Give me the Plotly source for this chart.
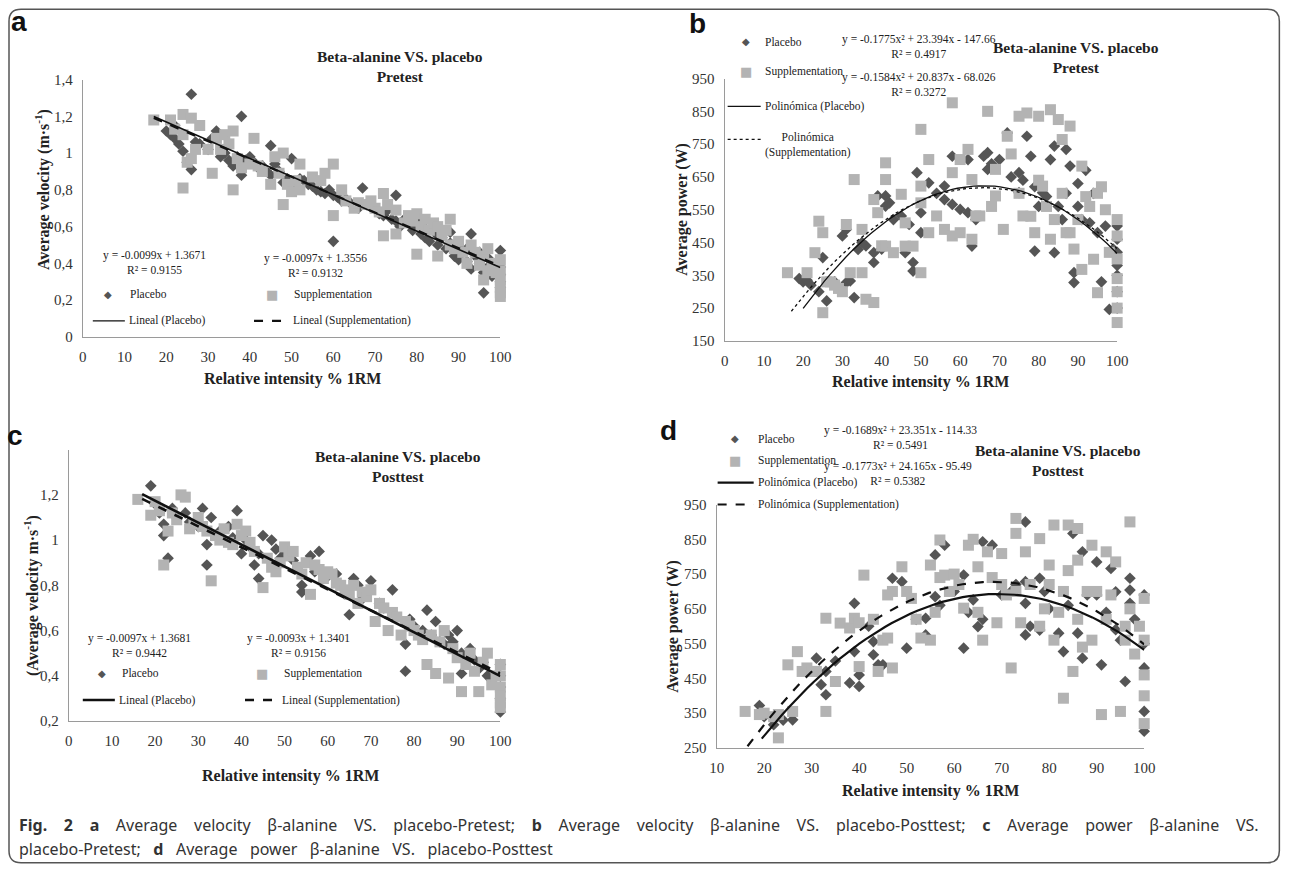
import plotly.graph_objects as go

W, H = 1292, 873
# the returned photo shows the page at ~0.984 scale with ~8.3px offset; positions below are
# given in photo pixels and converted to page pixels
PHOTO_S, PHOTO_O = 0.984, 8.3

# ---------------- data ----------------
# Panel a: average velocity, pretest
a_plac_x = [20,21,22,22,23,24,25,26,26,27,28,30,31,32,33,34,35,36,37,38,38,39,40,41,42,43,44,45,45,46,47,48,49,50,51,52,53,54,55,56,57,58,59,60,60,61,62,63,64,65,66,67,68,69,70,71,72,73,74,75,75,76,77,78,79,80,80,81,82,82,83,84,85,85,86,87,88,88,89,90,90,91,92,92,93,93,94,95,95,96,96,97,97,98,99,100,100,100,100,100]
a_plac_y = [1.12,1.10,1.15,1.08,1.05,1.01,0.95,0.91,1.32,1.06,1.05,1.02,1.08,1.12,0.98,1.00,0.96,0.93,0.98,1.20,0.88,0.96,0.98,0.95,0.92,0.93,0.90,0.88,1.04,0.94,0.90,0.84,0.86,0.97,0.80,0.86,0.85,0.83,0.82,0.80,0.79,0.78,0.80,0.77,0.52,0.76,0.74,0.75,0.73,0.72,0.70,0.81,0.72,0.71,0.70,0.67,0.66,0.69,0.64,0.77,0.63,0.60,0.64,0.62,0.58,0.60,0.64,0.56,0.54,0.59,0.52,0.58,0.50,0.55,0.54,0.48,0.57,0.51,0.44,0.42,0.49,0.46,0.41,0.48,0.37,0.56,0.44,0.40,0.46,0.35,0.24,0.38,0.43,0.33,0.36,0.47,0.38,0.34,0.30,0.27]
a_supp_x = [17,21,22,24,24,24,25,26,26,27,28,30,31,32,33,34,35,36,36,37,38,40,41,42,43,45,46,47,48,48,49,50,51,52,52,55,57,58,60,60,62,63,65,66,68,69,70,71,72,72,73,75,75,77,78,79,80,80,81,82,83,84,85,85,86,87,88,88,89,90,91,92,93,94,95,96,96,97,97,98,99,100,100,100,100,100,100]
a_supp_y = [1.18,1.18,1.13,1.21,1.10,0.81,0.95,1.19,0.97,1.02,1.15,1.02,0.89,1.08,1.02,1.10,1.05,1.12,0.80,0.97,0.92,0.94,1.08,0.93,0.90,0.83,0.98,0.89,1.00,0.72,0.83,0.79,0.85,0.94,0.80,0.87,0.85,0.89,0.94,0.66,0.80,0.74,0.70,0.73,0.72,0.74,0.70,0.68,0.78,0.55,0.72,0.69,0.56,0.62,0.66,0.63,0.67,0.45,0.60,0.64,0.58,0.62,0.60,0.44,0.55,0.58,0.64,0.50,0.48,0.52,0.46,0.40,0.50,0.46,0.39,0.44,0.31,0.48,0.36,0.40,0.35,0.42,0.36,0.31,0.27,0.24,0.22]

# Panel b: average power, pretest
b_plac_x = [19,20,21,22,24,25,26,28,30,31,31,32,33,34,35,36,38,38,39,40,41,41,42,43,45,46,47,48,48,49,50,50,52,54,56,56,58,58,60,62,62,63,64,66,67,67,68,70,72,73,75,75,76,77,78,79,79,80,81,82,83,84,84,85,86,87,87,88,89,89,90,90,91,92,93,94,95,96,97,98,99,100,100,100,100,100,100,100]
b_plac_y = [340,330,335,320,300,404,272,330,470,490,328,333,282,429,450,440,419,389,592,430,561,592,571,520,531,419,505,389,363,663,541,480,632,600,622,581,566,713,551,541,703,439,520,713,724,673,690,703,784,650,663,602,640,774,713,424,620,560,602,590,703,744,419,560,520,734,600,683,358,328,630,560,520,670,510,600,480,330,500,246,430,500,460,420,380,350,300,250]
b_supp_x = [16,21,23,24,25,25,26,27,28,29,30,31,32,33,35,35,36,38,38,39,40,41,41,41,43,45,46,46,48,50,50,50,50,52,52,54,56,58,58,58,60,60,62,63,63,64,65,67,68,69,69,71,72,73,75,75,76,77,78,79,80,80,81,82,83,83,84,85,86,86,87,88,88,89,90,91,91,92,93,94,95,95,96,97,98,100,100,100,100,100,100,100]
b_supp_y = [358,358,419,515,236,480,330,330,320,310,300,505,358,642,490,358,277,267,581,541,440,693,642,439,419,597,510,439,439,795,622,571,358,703,480,531,490,663,876,470,480,703,734,460,642,531,531,850,560,592,673,490,774,720,835,600,531,845,530,480,835,640,622,560,855,460,520,825,764,600,480,805,480,430,520,683,368,590,560,399,297,600,620,550,420,520,470,400,340,300,250,206]

# Panel c: average velocity, posttest
c_plac_x = [19,20,21,22,22,23,24,25,27,28,30,31,32,32,33,35,37,38,39,40,41,42,43,44,44,45,47,48,49,50,52,54,54,56,57,58,60,62,63,65,66,67,68,70,72,73,75,76,78,78,79,80,82,83,84,85,86,87,88,89,90,91,91,92,93,94,95,96,97,98,100,100,100,100,100]
c_plac_y = [1.24,1.16,1.12,1.07,1.02,0.92,1.14,1.10,1.12,1.08,1.06,1.14,0.98,0.89,1.10,1.04,1.06,1.01,1.13,0.94,1.00,0.97,0.89,0.83,0.94,1.02,1.00,0.96,0.92,0.95,0.91,0.80,0.77,0.93,0.86,0.95,0.84,0.85,0.80,0.67,0.83,0.80,0.74,0.82,0.72,0.70,0.78,0.66,0.54,0.42,0.65,0.62,0.60,0.69,0.58,0.64,0.55,0.54,0.58,0.55,0.60,0.41,0.50,0.48,0.52,0.47,0.43,0.46,0.40,0.38,0.24,0.30,0.35,0.40,0.45]
c_supp_x = [16,19,20,21,22,23,24,25,26,27,28,29,30,31,32,33,34,35,36,37,38,39,40,41,42,43,45,46,47,48,49,50,51,52,53,54,55,56,57,58,59,60,61,62,63,64,65,66,67,68,69,70,71,72,73,74,75,76,77,78,79,80,81,82,83,84,85,86,87,88,89,90,91,92,93,94,95,96,97,98,99,100,100,100,100,100,100]
c_supp_y = [1.18,1.11,1.17,1.13,0.89,1.04,1.12,1.09,1.20,1.19,1.05,1.07,1.10,1.06,1.04,0.82,1.02,1.00,1.05,0.99,0.98,1.07,1.02,1.04,0.99,0.95,0.79,0.92,0.88,0.86,0.90,0.97,0.93,0.95,0.88,0.85,0.90,0.76,0.89,0.87,0.83,0.86,0.85,0.81,0.80,0.78,0.76,0.80,0.72,0.77,0.75,0.78,0.64,0.72,0.70,0.60,0.68,0.66,0.58,0.64,0.62,0.60,0.58,0.56,0.45,0.58,0.41,0.55,0.60,0.39,0.52,0.48,0.33,0.45,0.50,0.42,0.33,0.46,0.50,0.36,0.40,0.45,0.40,0.35,0.31,0.28,0.26]

# Panel d: average power, posttest
d_plac_x = [19,20,22,24,26,29,31,32,33,33,35,38,39,39,40,40,42,43,43,44,45,47,49,50,52,54,54,56,56,57,58,60,62,62,63,64,65,66,66,68,70,72,73,75,75,75,75,76,78,78,79,80,82,83,84,85,86,87,87,88,90,90,91,92,93,94,94,95,96,97,97,97,98,100,100,100,100,100]
d_plac_y = [372,340,317,330,331,470,508,432,403,470,500,437,666,527,427,460,600,556,518,489,489,738,728,537,620,575,623,805,685,660,833,700,747,537,640,676,599,843,620,833,690,700,720,900,728,666,575,600,738,589,700,650,580,527,660,867,580,814,508,690,785,690,489,640,766,699,590,560,441,738,704,666,620,690,550,480,355,298]
d_supp_x = [16,19,20,22,23,23,25,26,27,28,29,30,31,33,33,35,36,38,39,40,40,41,43,44,45,46,46,47,47,49,50,51,52,53,55,55,56,57,57,58,59,60,61,62,63,64,65,65,66,67,68,69,70,70,71,72,73,73,73,74,75,76,78,78,79,80,80,81,81,82,83,83,84,84,85,86,86,86,87,88,89,89,90,91,92,92,93,94,95,96,96,97,97,98,99,100,100,100,100,100]
d_supp_y = [355,346,350,340,279,346,489,355,527,470,480,470,470,623,355,441,609,595,623,484,610,747,620,470,560,690,566,480,700,771,700,680,620,566,776,560,640,848,740,747,700,750,720,652,833,850,771,640,560,814,740,610,809,720,690,480,910,867,700,610,814,720,852,600,650,776,720,560,891,640,393,700,891,760,470,881,620,790,540,700,833,560,700,346,814,620,690,785,355,600,560,900,650,520,600,680,560,460,400,320]

# Trend-line coefficients (as printed on the chart), highest power first, and x-extent
a_fit_plac = [-0.0099, 1.3671]
a_fit_supp = [-0.0097, 1.3556]
b_fit_plac = [-0.1775, 23.394, -147.66]
b_fit_supp = [-0.1584, 20.837, -68.026]
c_fit_plac = [-0.0097, 1.3681]
c_fit_supp = [-0.0093, 1.3401]
d_fit_plac = [-0.1689, 23.351, -114.33]
d_fit_supp = [-0.1773, 24.165, -95.49]
fit_x_a = [17, 100]
fit_x_b_plac = [20, 100]
fit_x_b_supp = [17, 100]
fit_x_c = [17, 100]
fit_x_d_plac = [19.5, 100]
fit_x_d_supp = [16.5, 100]

eq_a = ["y = -0.0099x + 1.3671<br>R² = 0.9155", "y = -0.0097x + 1.3556<br>R² = 0.9132"]
eq_b = ["y = -0.1775x² + 23.394x - 147.66<br>R² = 0.4917", "y = -0.1584x² + 20.837x - 68.026<br>R² = 0.3272"]
eq_c = ["y = -0.0097x + 1.3681<br>R² = 0.9442", "y = -0.0093x + 1.3401<br>R² = 0.9156"]
eq_d = ["y = -0.1689x² + 23.351x - 114.33<br>R² = 0.5491", "y = -0.1773x² + 24.165x - 95.49<br>R² = 0.5382"]

caption_1 = ["<b>Fig.</b>", "<b>2</b>", "<b>a</b>", "Average", "velocity", "β-alanine", "VS.", "placebo-Pretest;",
             "<b>b</b>", "Average", "velocity", "β-alanine", "VS.", "placebo-Posttest;",
             "<b>c</b>", "Average", "power", "β-alanine", "VS."]
caption_2 = ["placebo-Pretest;", "<b>d</b>", "Average", "power", "β-alanine", "VS.", "placebo-Posttest"]

# ---------------- helpers (photo pixel -> paper) ----------------
def px(x):
    return ((x - PHOTO_O) / PHOTO_S) / W

def py(y):
    return 1 - ((y - PHOTO_O) / PHOTO_S) / H

def poly(coefs, x0, x1, n=60):
    xs = [x0 + (x1 - x0) * i / (n - 1) for i in range(n)]
    ys = []
    for x in xs:
        v = 0.0
        for c in coefs:
            v = v * x + c
        ys.append(v)
    return xs, ys

SERIF = "Liberation Serif, Times New Roman, serif"
PLAC_COL = "#555555"
SUPP_COL = "#b3b3b3"

fig = go.Figure()

def add_scatter(xs, ys, ax, sym, col, size):
    fig.add_trace(go.Scatter(
        x=xs, y=ys, mode="markers", xaxis="x" + ax, yaxis="y" + ax,
        marker=dict(symbol=sym, color=col, size=size, line=dict(width=0)),
        cliponaxis=False, showlegend=False, hoverinfo="skip"))

def add_line(coefs, rng, ax, dash, width, col="#111111"):
    xs, ys = poly(coefs, rng[0], rng[1])
    fig.add_trace(go.Scatter(
        x=xs, y=ys, mode="lines", xaxis="x" + ax, yaxis="y" + ax,
        line=dict(color=col, width=width, dash=dash),
        cliponaxis=False, showlegend=False, hoverinfo="skip"))

# panel a
add_scatter(a_plac_x, a_plac_y, "", "diamond", PLAC_COL, 9)
add_scatter(a_supp_x, a_supp_y, "", "square", SUPP_COL, 11)
add_line(a_fit_plac, fit_x_a, "", "solid", 1.6)
add_line(a_fit_supp, fit_x_a, "", "dash", 2.2)
# panel b
add_scatter(b_plac_x, b_plac_y, "2", "diamond", PLAC_COL, 9)
add_scatter(b_supp_x, b_supp_y, "2", "square", SUPP_COL, 11)
add_line(b_fit_plac, fit_x_b_plac, "2", "solid", 1.3)
add_line(b_fit_supp, fit_x_b_supp, "2", "dot", 1.3)
# panel c
add_scatter(c_plac_x, c_plac_y, "3", "diamond", PLAC_COL, 9)
add_scatter(c_supp_x, c_supp_y, "3", "square", SUPP_COL, 11)
add_line(c_fit_plac, fit_x_c, "3", "solid", 2.6)
add_line(c_fit_supp, fit_x_c, "3", "dash", 2.6)
# panel d
add_scatter(d_plac_x, d_plac_y, "4", "diamond", PLAC_COL, 9)
add_scatter(d_supp_x, d_supp_y, "4", "square", SUPP_COL, 11)
add_line(d_fit_plac, fit_x_d_plac, "4", "solid", 2.2)
add_line(d_fit_supp, fit_x_d_supp, "4", "dash", 2.2)

def axis_style(domain, rng, anchor, dtick, tick0=0):
    return dict(domain=domain, range=rng, anchor=anchor, showline=True,
                linecolor="#9a9a9a", linewidth=1.3, showgrid=False, zeroline=False,
                ticks="outside", ticklen=6, tickcolor="rgba(0,0,0,0)",
                dtick=dtick, tick0=tick0,
                tickfont=dict(family=SERIF, size=15, color="#333333"))

fig.update_layout(
    width=W, height=H, margin=dict(l=0, r=0, t=0, b=0),
    paper_bgcolor="white", plot_bgcolor="rgba(0,0,0,0)",
    separators=", ",
    xaxis=axis_style([px(83), px(500)], [0, 100], "y", 10),
    yaxis=axis_style([py(338), py(80)], [0, 1.4], "x", 0.2),
    xaxis2=axis_style([px(724), px(1116)], [0, 100], "y2", 10),
    yaxis2=axis_style([py(342), py(79)], [150, 950], "x2", 100, 150),
    xaxis3=axis_style([px(69), px(500)], [0, 100], "y3", 10),
    yaxis3=axis_style([py(723), py(451)], [0.2, 1.4], "x3", 0.2),
    xaxis4=axis_style([px(716), px(1143)], [10, 100], "y4", 10),
    yaxis4=axis_style([py(750), py(506)], [250, 950], "x4", 100, 250),
)
fig.update_layout(yaxis3=dict(tickvals=[0.2, 0.4, 0.6, 0.8, 1.0, 1.2]))

ann = []
shapes = []

def text(x, y, t, size=13, bold=False, xanchor="center", family=SERIF, color="#222222", yanchor="middle", angle=0):
    if bold:
        t = "<b>" + t + "</b>"
    ann.append(dict(x=px(x), y=py(y), xref="paper", yref="paper", text=t, showarrow=False,
                    xanchor=xanchor, yanchor=yanchor, align="center", textangle=angle,
                    font=dict(family=family, size=size, color=color)))

def hline(x0, x1, y, dash="solid", width=1.5):
    shapes.append(dict(type="line", xref="paper", yref="paper", x0=px(x0), x1=px(x1),
                       y0=py(y), y1=py(y), line=dict(color="#111111", width=width, dash=dash)))

def diamond(x, y):
    text(x, y, "◆", size=10, family="DejaVu Sans", color=PLAC_COL)

def square(x, y):
    text(x, y, "■", size=13, family="DejaVu Sans", color=SUPP_COL)

# panel letters
for lx, ly, l in [(19, 22, "a"), (697, 24, "b"), (15, 437, "c"), (668, 432, "d")]:
    text(lx, ly, l, size=28, bold=True, family="Liberation Sans, Arial, sans-serif", color="#111111")

# panel titles
TS = 15.5
text(400, 67, "Beta-alanine VS. placebo<br>Pretest", size=TS, bold=True)
text(1075, 58, "Beta-alanine VS. placebo<br>Pretest", size=TS, bold=True)
text(398, 468, "Beta-alanine VS. placebo<br>Posttest", size=TS, bold=True)
text(1057, 462, "Beta-alanine VS. placebo<br>Posttest", size=TS, bold=True)

# axis titles
AS = 16
for xx, yy in [(292, 380), (920, 383), (290, 778), (930, 793)]:
    text(xx, yy, "Relative intensity % 1RM", size=AS, bold=True)
text(43, 190, "Average velocity (m·s<sup>-1</sup>)", size=AS, bold=True, angle=-90)
text(682, 210, "Average power (W)", size=AS, bold=True, angle=-90)
text(32, 597, "(Average velocity m·s<sup>-1</sup>)", size=AS, bold=True, angle=-90)
text(673, 628, "Average power (W)", size=AS, bold=True, angle=-90)

FS = 11.5
# panel a legend/equations
text(155, 263, eq_a[0], size=FS)
text(315, 266, eq_a[1], size=FS)
diamond(108, 295); text(128, 295, "Placebo", size=FS, xanchor="left")
square(272, 295); text(292, 295, "Supplementation", size=FS, xanchor="left")
hline(93, 125, 322, "solid", 1.3); text(127, 322, "Lineal (Placebo)", size=FS, xanchor="left")
hline(254, 285, 322, "dash", 2.2); text(291, 322, "Lineal (Supplementation)", size=FS, xanchor="left")

# panel b legend/equations
diamond(745, 42); text(762, 42, "Placebo", size=FS, xanchor="left")
square(745, 72); text(762, 72, "Supplementation", size=FS, xanchor="left")
hline(727, 760, 107, "solid", 1.2); text(762, 107, "Polinómica (Placebo)", size=FS, xanchor="left")
hline(727, 760, 140, "dot", 1.2); text(762, 146, "Polinómica<br>(Supplementation)", size=FS, xanchor="left")
text(918, 47, eq_b[0], size=FS)
text(918, 85, eq_b[1], size=FS)

# panel c legend/equations
text(140, 647, eq_c[0], size=FS)
text(298, 647, eq_c[1], size=FS)
diamond(102, 675); text(120, 675, "Placebo", size=FS, xanchor="left")
square(262, 675); text(282, 675, "Supplementation", size=FS, xanchor="left")
hline(83, 115, 702, "solid", 2.6); text(117, 702, "Lineal (Placebo)", size=FS, xanchor="left")
hline(245, 277, 702, "dash", 2.6); text(280, 702, "Lineal (Supplementation)", size=FS, xanchor="left")

# panel d legend/equations
diamond(734, 440); text(755, 440, "Placebo", size=FS, xanchor="left")
square(734, 462); text(755, 462, "Supplementation", size=FS, xanchor="left")
hline(717, 753, 484, "solid", 2.2); text(755, 484, "Polinómica (Placebo)", size=FS, xanchor="left")
hline(717, 753, 506, "dash", 2.2); text(755, 506, "Polinómica (Supplementation)", size=FS, xanchor="left")
text(900, 439, eq_d[0], size=FS)
text(897, 475, eq_d[1], size=FS)

# caption (wide word gaps as in the justified original)
CAP = "Noto Sans, Open Sans, sans-serif"
text(17, 827, (" " + "\u00a0" * 3).join(caption_1), size=16, xanchor="left", family=CAP, color="#333333")
text(17, 851, (" " + "\u00a0" * 2).join(caption_2), size=16, xanchor="left", family=CAP, color="#333333")

# rounded border
x0, y0, x1, y1, r = 9.3, 9.5, 1278, 865, 12
path = (f"M {px(x0+r)},{py(y0)} L {px(x1-r)},{py(y0)} Q {px(x1)},{py(y0)} {px(x1)},{py(y0+r)} "
        f"L {px(x1)},{py(y1-r)} Q {px(x1)},{py(y1)} {px(x1-r)},{py(y1)} "
        f"L {px(x0+r)},{py(y1)} Q {px(x0)},{py(y1)} {px(x0)},{py(y1-r)} "
        f"L {px(x0)},{py(y0+r)} Q {px(x0)},{py(y0)} {px(x0+r)},{py(y0)} Z")
shapes.append(dict(type="path", xref="paper", yref="paper", path=path,
                   line=dict(color="#555555", width=1.5)))

fig.update_layout(annotations=ann, shapes=shapes)
fig.write_html("out.html", config={"displayModeBar": False},
               post_script="document.body.style.margin='0';document.body.style.overflow='hidden';")
